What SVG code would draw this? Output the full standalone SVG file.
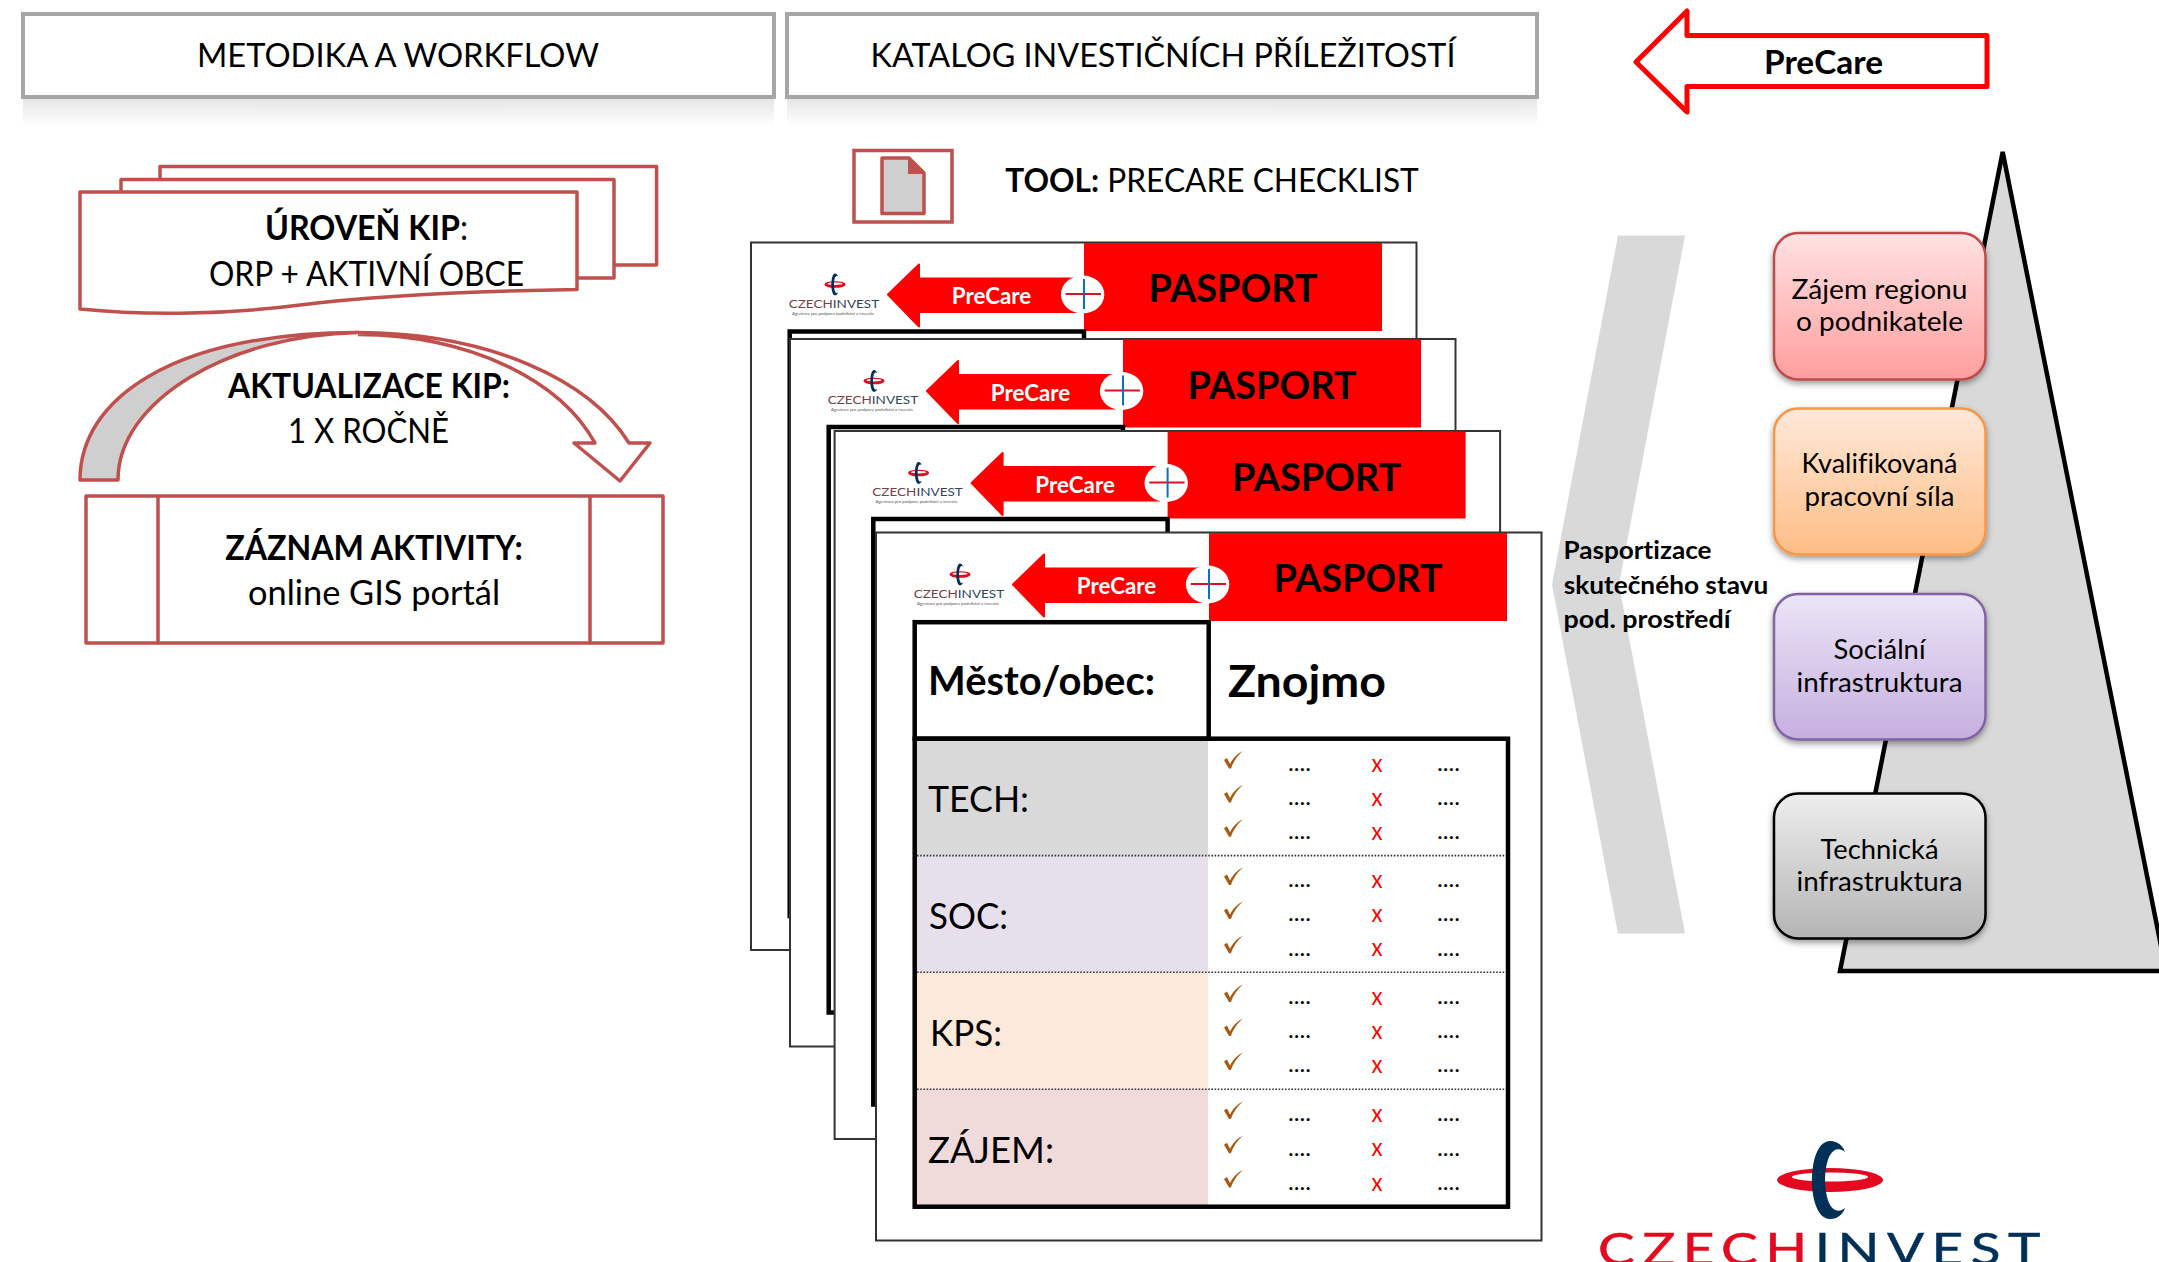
<svg xmlns="http://www.w3.org/2000/svg" xmlns:xlink="http://www.w3.org/1999/xlink" width="2159" height="1262" viewBox="0 0 2159 1262">
<style>
text{font-family:Lato,"Liberation Sans",sans-serif;fill:#000;text-anchor:middle;font-variant-ligatures:none;transform:translate(0,1px)}
.b{font-weight:700}
.r{font-weight:400}
.hd{fill:#fff;stroke:#a6a6a6;stroke-width:4}
.kip{fill:#fff;stroke:#c0504d;stroke-width:3.5;stroke-linejoin:round}
.page{fill:#fff;stroke:#333;stroke-width:2}
.tbl{fill:none;stroke:#000;stroke-width:4.5}
.tint{stroke:none}
.dot{stroke:#333;stroke-width:1.6;stroke-dasharray:1.6 1.6}
.rd{fill:#f00;stroke:none}
.ar{fill:#f00;stroke:#f00;stroke-width:2;stroke-linejoin:round}
.pc{fill:#fff;font-weight:700;font-size:22px}
.ps{font-weight:700;font-size:38px}
.row{font-size:37px}
.cell{font-size:23px;font-weight:400}
.x{font-size:25px;fill:#f00}
.chk{fill:#a8590f}
.nt{font-size:26px}
.node{stroke-width:2.5;filter:url(#sh)}
.lg{font-size:12px;text-anchor:start}
.lgs{font-size:4.5px;fill:#555;text-anchor:start}
</style>
<defs>
<linearGradient id="refl" x1="0" y1="0" x2="0" y2="1"><stop offset="0" stop-color="#e4e4e4"/><stop offset="1" stop-color="#fff"/></linearGradient>
<linearGradient id="gR" x1="0" y1="0" x2="0" y2="1"><stop offset="0" stop-color="#ffe2e2"/><stop offset="1" stop-color="#ff9e9e"/></linearGradient>
<linearGradient id="gO" x1="0" y1="0" x2="0" y2="1"><stop offset="0" stop-color="#ffe9d9"/><stop offset="1" stop-color="#fdbd84"/></linearGradient>
<linearGradient id="gP" x1="0" y1="0" x2="0" y2="1"><stop offset="0" stop-color="#ebe5f6"/><stop offset="1" stop-color="#c6afe0"/></linearGradient>
<linearGradient id="gG" x1="0" y1="0" x2="0" y2="1"><stop offset="0" stop-color="#eeeeee"/><stop offset="1" stop-color="#b4b4b4"/></linearGradient>
<filter id="sh" x="-10%" y="-10%" width="120%" height="125%"><feDropShadow dx="0" dy="3" stdDeviation="3" flood-color="#000" flood-opacity="0.4"/></filter>
<path id="check" class="chk" d="M0,9 L3,7 L6,13 C9,7 14,2 19,0 C14,4 9,11 7,17.5 L5,17.5 Z"/>
<g id="mark">
<path fill="#e30a20" fill-rule="evenodd" d="M-53,0 a53,12 0 1,0 106,0 a53,12 0 1,0 -106,0 Z M-38,-3 a38,4.5 0 1,0 76,0 a38,4.5 0 1,0 -76,0 Z"/>
<path fill="#003057" d="M0,-39 C-24,-39 -24,39 0,39 C8,39 13,34 15,28 C8,34 -4,32 -5,0 C-4,-32 8,-34 15,-28 C13,-34 8,-39 0,-39 Z"/>
</g>
</defs>
<rect width="2159" height="1262" fill="#fff"/>

<g id="header-metodika">
<rect x="23" y="97" width="751" height="29" fill="url(#refl)"/>
<rect class="hd" x="23" y="14" width="751" height="83"/>
<text class="r" x="398" y="66" font-size="32" textLength="402" lengthAdjust="spacingAndGlyphs">METODIKA A WORKFLOW</text>
</g>
<g id="header-katalog">
<rect x="787" y="97" width="750" height="29" fill="url(#refl)"/>
<rect class="hd" x="787" y="14" width="750" height="83"/>
<text class="r" x="1163" y="66" font-size="32" textLength="585" lengthAdjust="spacingAndGlyphs">KATALOG INVESTIČNÍCH PŘÍLEŽITOSTÍ</text>
</g>
<g id="precare-top">
<polygon points="1636,62 1687,11 1687,35.5 1987,35.5 1987,86.5 1687,86.5 1687,112" fill="#fff" stroke="#f00" stroke-width="5" stroke-linejoin="round"/>
<text class="b" x="1823.5" y="73" font-size="33" textLength="119" lengthAdjust="spacingAndGlyphs">PreCare</text>
</g>

<g id="uroven-kip">
<path class="kip" d="M160,191 V166.5 H656.6 V265 H614"/>
<path class="kip" d="M121,191 V179.5 H614 V278 H577"/>
<path class="kip" d="M80,192 H577 V289.5 C480,291 380,295 300,305 C230,314 150,316 80,309 Z"/>
<text x="366.5" y="239" font-size="34" textLength="203" lengthAdjust="spacingAndGlyphs"><tspan class="b">ÚROVEŇ KIP</tspan><tspan class="r">:</tspan></text>
<text class="r" x="366.5" y="285" font-size="34" textLength="315" lengthAdjust="spacingAndGlyphs">ORP + AKTIVNÍ OBCE</text>
</g>
<g id="connectors">
<path d="M80,480 C80,400 170,333 358,332.5 C230,335 118,400 118,480 Z" fill="#cfcfcf" stroke="#c0504d" stroke-width="3.5" stroke-linejoin="round"/>
<path d="M358,332.5 C490,333 590,380 629,443 L650,443 L620,481 L574,443 L595,443 C560,380 470,335 358,334.5" fill="#fff" stroke="#c0504d" stroke-width="3.5" stroke-linejoin="round"/>
</g>
<g id="aktualizace-kip">
<text class="b" x="369" y="396.5" font-size="34" textLength="282" lengthAdjust="spacingAndGlyphs">AKTUALIZACE KIP:</text>
<text class="r" x="368.5" y="442" font-size="34" textLength="161" lengthAdjust="spacingAndGlyphs">1 X ROČNĚ</text>
</g>
<g id="zaznam-aktivity">
<rect class="kip" x="86" y="496" width="577" height="147"/>
<path class="kip" d="M158,496 V643 M590,496 V643"/>
<text class="b" x="374" y="558.5" font-size="34" textLength="297.5" lengthAdjust="spacingAndGlyphs">ZÁZNAM AKTIVITY:</text>
<text class="r" x="374" y="604" font-size="34" textLength="252" lengthAdjust="spacingAndGlyphs">online GIS portál</text>
</g>

<g id="tool">
<rect x="854" y="150.5" width="98" height="71.5" fill="#fff" stroke="#c0504d" stroke-width="3.5"/>
<path d="M882,158 H909 L924,173 V213.5 H882 Z" fill="#cfcfcf" stroke="#c0504d" stroke-width="3.5" stroke-linejoin="round"/>
<path d="M909,158 V173 H924" fill="#c0504d" stroke="#c0504d" stroke-width="2"/>
<text x="1212" y="191" font-size="32" textLength="413.5" lengthAdjust="spacingAndGlyphs"><tspan class="b">TOOL:</tspan><tspan class="r"> PRECARE CHECKLIST</tspan></text>
</g>

<g id="page-1" transform="translate(751,242.5)">
<rect class="page" width="665.5" height="707.5"/>
<rect class="rd" x="333" y="0.5" width="298" height="88"/>
<rect class="tbl" x="38.7" y="89" width="294.3" height="584.5"/>
<use href="#mark" transform="translate(84,42) scale(.2,.28)"/>
<text class="lg" x="37.7" y="64" textLength="90.5" lengthAdjust="spacingAndGlyphs"><tspan fill="#7c4048">CZECH</tspan><tspan fill="#2f4560">INVEST</tspan></text>
<text class="lgs" x="41" y="71" textLength="82" lengthAdjust="spacingAndGlyphs">Agentura pro podporu podnikání a investic</text>
<polygon class="ar" points="137,52 168,22 168,36 325,36 325,69.4 168,69.4 168,84"/>
<ellipse cx="331.6" cy="52" rx="21.7" ry="19" fill="#fff"/>
<path d="M314.7,51.6 H350" stroke="#e01020" stroke-width="2"/><path d="M333,36.6 V66.6" stroke="#1070c0" stroke-width="2"/>
<text class="pc" x="240.5" y="60.5" textLength="79.5" lengthAdjust="spacingAndGlyphs">PreCare</text>
<text class="ps" x="482" y="58.5" textLength="169" lengthAdjust="spacingAndGlyphs">PASPORT</text>
</g>
<g id="page-2" transform="translate(790,339)">
<rect class="page" width="665.5" height="707.5"/>
<rect class="rd" x="333" y="0.5" width="298" height="88"/>
<rect class="tbl" x="38.7" y="88" width="294.3" height="585.5"/>
<use href="#mark" transform="translate(84,42) scale(.2,.28)"/>
<text class="lg" x="37.7" y="64" textLength="90.5" lengthAdjust="spacingAndGlyphs"><tspan fill="#7c4048">CZECH</tspan><tspan fill="#2f4560">INVEST</tspan></text>
<text class="lgs" x="41" y="71" textLength="82" lengthAdjust="spacingAndGlyphs">Agentura pro podporu podnikání a investic</text>
<polygon class="ar" points="137,52 168,22 168,36 325,36 325,69.4 168,69.4 168,84"/>
<ellipse cx="331.6" cy="52" rx="21.7" ry="19" fill="#fff"/>
<path d="M314.7,51.6 H350" stroke="#e01020" stroke-width="2"/><path d="M333,36.6 V66.6" stroke="#1070c0" stroke-width="2"/>
<text class="pc" x="240.5" y="60.5" textLength="79.5" lengthAdjust="spacingAndGlyphs">PreCare</text>
<text class="ps" x="482" y="58.5" textLength="169" lengthAdjust="spacingAndGlyphs">PASPORT</text>
</g>
<g id="page-3" transform="translate(834.6,431)">
<rect class="page" width="665.5" height="708"/>
<rect class="rd" x="333" y="0.5" width="298" height="87"/>
<rect class="tbl" x="38.7" y="88" width="294.3" height="585.5"/>
<use href="#mark" transform="translate(84,42) scale(.2,.28)"/>
<text class="lg" x="37.7" y="64" textLength="90.5" lengthAdjust="spacingAndGlyphs"><tspan fill="#7c4048">CZECH</tspan><tspan fill="#2f4560">INVEST</tspan></text>
<text class="lgs" x="41" y="71" textLength="82" lengthAdjust="spacingAndGlyphs">Agentura pro podporu podnikání a investic</text>
<polygon class="ar" points="137,52 168,22 168,36 325,36 325,69.4 168,69.4 168,84"/>
<ellipse cx="331.6" cy="52" rx="21.7" ry="19" fill="#fff"/>
<path d="M314.7,51.6 H350" stroke="#e01020" stroke-width="2"/><path d="M333,36.6 V66.6" stroke="#1070c0" stroke-width="2"/>
<text class="pc" x="240.5" y="60.5" textLength="79.5" lengthAdjust="spacingAndGlyphs">PreCare</text>
<text class="ps" x="482" y="58.5" textLength="169" lengthAdjust="spacingAndGlyphs">PASPORT</text>
</g>
<g id="page-4">
<g transform="translate(876,532.5)">
<rect class="page" width="665.5" height="708"/>
<rect class="rd" x="333" y="0.5" width="298" height="88"/>
<use href="#mark" transform="translate(84,42) scale(.2,.28)"/>
<text class="lg" x="37.7" y="64" textLength="90.5" lengthAdjust="spacingAndGlyphs"><tspan fill="#7c4048">CZECH</tspan><tspan fill="#2f4560">INVEST</tspan></text>
<text class="lgs" x="41" y="71" textLength="82" lengthAdjust="spacingAndGlyphs">Agentura pro podporu podnikání a investic</text>
<polygon class="ar" points="137,52 168,22 168,36 325,36 325,69.4 168,69.4 168,84"/>
<ellipse cx="331.6" cy="52" rx="21.7" ry="19" fill="#fff"/>
<path d="M314.7,51.6 H350" stroke="#e01020" stroke-width="2"/><path d="M333,36.6 V66.6" stroke="#1070c0" stroke-width="2"/>
<text class="pc" x="240.5" y="60.5" textLength="79.5" lengthAdjust="spacingAndGlyphs">PreCare</text>
<text class="ps" x="482" y="58.5" textLength="169" lengthAdjust="spacingAndGlyphs">PASPORT</text>
</g>
<g transform="translate(0,1.2)">
<rect class="tint" x="915" y="738" width="293" height="116" fill="#d9d9d9"/>
<rect class="tint" x="915" y="854" width="293" height="117" fill="#e6e0ec"/>
<rect class="tint" x="915" y="971" width="293" height="117" fill="#fde9d9"/>
<rect class="tint" x="915" y="1088" width="293" height="117" fill="#f0dbda"/>
<path class="dot" d="M917,854.4 H1505 M917,971 H1505 M917,1088 H1505"/>
<rect class="tbl" x="914.7" y="621" width="294" height="116.5"/>
<rect class="tbl" x="914.7" y="737.5" width="593.3" height="468"/>
<text class="b" x="1041.5" y="693" font-size="40" textLength="227" lengthAdjust="spacingAndGlyphs">Město/obec:</text>
<text class="b" x="1307" y="695" font-size="44" textLength="158" lengthAdjust="spacingAndGlyphs">Znojmo</text>
<text class="row r" x="978.5" y="810" textLength="101" lengthAdjust="spacingAndGlyphs">TECH:</text>
<text class="row r" x="968.5" y="927" textLength="79" lengthAdjust="spacingAndGlyphs">SOC:</text>
<text class="row r" x="966" y="1043.6" textLength="72" lengthAdjust="spacingAndGlyphs">KPS:</text>
<text class="row r" x="991" y="1160.5" textLength="126" lengthAdjust="spacingAndGlyphs">ZÁJEM:</text>
<g transform="translate(1224,0)">
<use href="#check" y="749.8"/><use href="#check" y="783.9"/><use href="#check" y="818"/>
<use href="#check" y="866.3"/><use href="#check" y="900.4"/><use href="#check" y="934.5"/>
<use href="#check" y="983.2"/><use href="#check" y="1017.3"/><use href="#check" y="1051.4"/>
<use href="#check" y="1100.4"/><use href="#check" y="1134.5"/><use href="#check" y="1168.7"/>
</g>
<g>
<text class="cell" x="1299.5" y="768.7" textLength="23" lengthAdjust="spacingAndGlyphs">....</text><text class="x" x="1377" y="769.5" textLength="11" lengthAdjust="spacingAndGlyphs">x</text><text class="cell" x="1448.5" y="768.7" textLength="23" lengthAdjust="spacingAndGlyphs">....</text>
<text class="cell" x="1299.5" y="802.8" textLength="23" lengthAdjust="spacingAndGlyphs">....</text><text class="x" x="1377" y="803.6" textLength="11" lengthAdjust="spacingAndGlyphs">x</text><text class="cell" x="1448.5" y="802.8" textLength="23" lengthAdjust="spacingAndGlyphs">....</text>
<text class="cell" x="1299.5" y="836.9" textLength="23" lengthAdjust="spacingAndGlyphs">....</text><text class="x" x="1377" y="837.7" textLength="11" lengthAdjust="spacingAndGlyphs">x</text><text class="cell" x="1448.5" y="836.9" textLength="23" lengthAdjust="spacingAndGlyphs">....</text>
<text class="cell" x="1299.5" y="885.2" textLength="23" lengthAdjust="spacingAndGlyphs">....</text><text class="x" x="1377" y="886" textLength="11" lengthAdjust="spacingAndGlyphs">x</text><text class="cell" x="1448.5" y="885.2" textLength="23" lengthAdjust="spacingAndGlyphs">....</text>
<text class="cell" x="1299.5" y="919.3" textLength="23" lengthAdjust="spacingAndGlyphs">....</text><text class="x" x="1377" y="920.1" textLength="11" lengthAdjust="spacingAndGlyphs">x</text><text class="cell" x="1448.5" y="919.3" textLength="23" lengthAdjust="spacingAndGlyphs">....</text>
<text class="cell" x="1299.5" y="953.4" textLength="23" lengthAdjust="spacingAndGlyphs">....</text><text class="x" x="1377" y="954.2" textLength="11" lengthAdjust="spacingAndGlyphs">x</text><text class="cell" x="1448.5" y="953.4" textLength="23" lengthAdjust="spacingAndGlyphs">....</text>
<text class="cell" x="1299.5" y="1002.1" textLength="23" lengthAdjust="spacingAndGlyphs">....</text><text class="x" x="1377" y="1002.9" textLength="11" lengthAdjust="spacingAndGlyphs">x</text><text class="cell" x="1448.5" y="1002.1" textLength="23" lengthAdjust="spacingAndGlyphs">....</text>
<text class="cell" x="1299.5" y="1036.2" textLength="23" lengthAdjust="spacingAndGlyphs">....</text><text class="x" x="1377" y="1037" textLength="11" lengthAdjust="spacingAndGlyphs">x</text><text class="cell" x="1448.5" y="1036.2" textLength="23" lengthAdjust="spacingAndGlyphs">....</text>
<text class="cell" x="1299.5" y="1070.3" textLength="23" lengthAdjust="spacingAndGlyphs">....</text><text class="x" x="1377" y="1071.1" textLength="11" lengthAdjust="spacingAndGlyphs">x</text><text class="cell" x="1448.5" y="1070.3" textLength="23" lengthAdjust="spacingAndGlyphs">....</text>
<text class="cell" x="1299.5" y="1119.3" textLength="23" lengthAdjust="spacingAndGlyphs">....</text><text class="x" x="1377" y="1120.1" textLength="11" lengthAdjust="spacingAndGlyphs">x</text><text class="cell" x="1448.5" y="1119.3" textLength="23" lengthAdjust="spacingAndGlyphs">....</text>
<text class="cell" x="1299.5" y="1153.4" textLength="23" lengthAdjust="spacingAndGlyphs">....</text><text class="x" x="1377" y="1154.2" textLength="11" lengthAdjust="spacingAndGlyphs">x</text><text class="cell" x="1448.5" y="1153.4" textLength="23" lengthAdjust="spacingAndGlyphs">....</text>
<text class="cell" x="1299.5" y="1187.6" textLength="23" lengthAdjust="spacingAndGlyphs">....</text><text class="x" x="1377" y="1188.4" textLength="11" lengthAdjust="spacingAndGlyphs">x</text><text class="cell" x="1448.5" y="1187.6" textLength="23" lengthAdjust="spacingAndGlyphs">....</text>
</g>
</g>
</g>

<g id="chevron">
<polygon points="1618,235.5 1685,235.5 1619,584.5 1685,933.5 1618,933.5 1552,584.5" fill="#d9d9d9"/>
<text class="b" x="1637.5" y="558" font-size="25" textLength="148" lengthAdjust="spacingAndGlyphs">Pasportizace</text>
<text class="b" x="1666" y="592.5" font-size="25" textLength="204.5" lengthAdjust="spacingAndGlyphs">skutečného stavu</text>
<text class="b" x="1647" y="627" font-size="25" textLength="167" lengthAdjust="spacingAndGlyphs">pod. prostředí</text>
</g>
<g id="pyramid">
<polygon points="2002.7,152 2166,971 1840,971" fill="#d9d9d9" stroke="#000" stroke-width="4.5" stroke-linejoin="miter"/>
</g>
<g id="node-zajem">
<rect class="node" x="1774" y="233" width="211.5" height="146.5" rx="24" fill="url(#gR)" stroke="#be4b48"/>
<text class="nt r" x="1879.5" y="297.5" textLength="176" lengthAdjust="spacingAndGlyphs">Zájem regionu</text>
<text class="nt r" x="1879.5" y="330" textLength="167" lengthAdjust="spacingAndGlyphs">o podnikatele</text>
</g>
<g id="node-kvalifikovana">
<rect class="node" x="1774" y="408.5" width="211.5" height="146" rx="24" fill="url(#gO)" stroke="#f79646"/>
<text class="nt r" x="1879.5" y="471.5" textLength="156" lengthAdjust="spacingAndGlyphs">Kvalifikovaná</text>
<text class="nt r" x="1879.5" y="504.5" textLength="150" lengthAdjust="spacingAndGlyphs">pracovní síla</text>
</g>
<g id="node-socialni">
<rect class="node" x="1774" y="594" width="211.5" height="145.5" rx="24" fill="url(#gP)" stroke="#8064a2"/>
<text class="nt r" x="1879.5" y="658" textLength="92" lengthAdjust="spacingAndGlyphs">Sociální</text>
<text class="nt r" x="1879.5" y="691" textLength="166" lengthAdjust="spacingAndGlyphs">infrastruktura</text>
</g>
<g id="node-technicka">
<rect class="node" x="1774" y="793.5" width="211.5" height="145" rx="24" fill="url(#gG)" stroke="#000"/>
<text class="nt r" x="1879.5" y="857.5" textLength="118" lengthAdjust="spacingAndGlyphs">Technická</text>
<text class="nt r" x="1879.5" y="890" textLength="166" lengthAdjust="spacingAndGlyphs">infrastruktura</text>
</g>
<g id="logo">
<use href="#mark" transform="translate(1830,1180)"/>
<text class="r" x="1823" y="1264" font-size="44" letter-spacing="6" stroke-width="0.5" textLength="450" lengthAdjust="spacingAndGlyphs"><tspan fill="#e30a20" stroke="#e30a20">CZECH</tspan><tspan fill="#003057" stroke="#003057">INVEST</tspan></text>
</g>
</svg>
